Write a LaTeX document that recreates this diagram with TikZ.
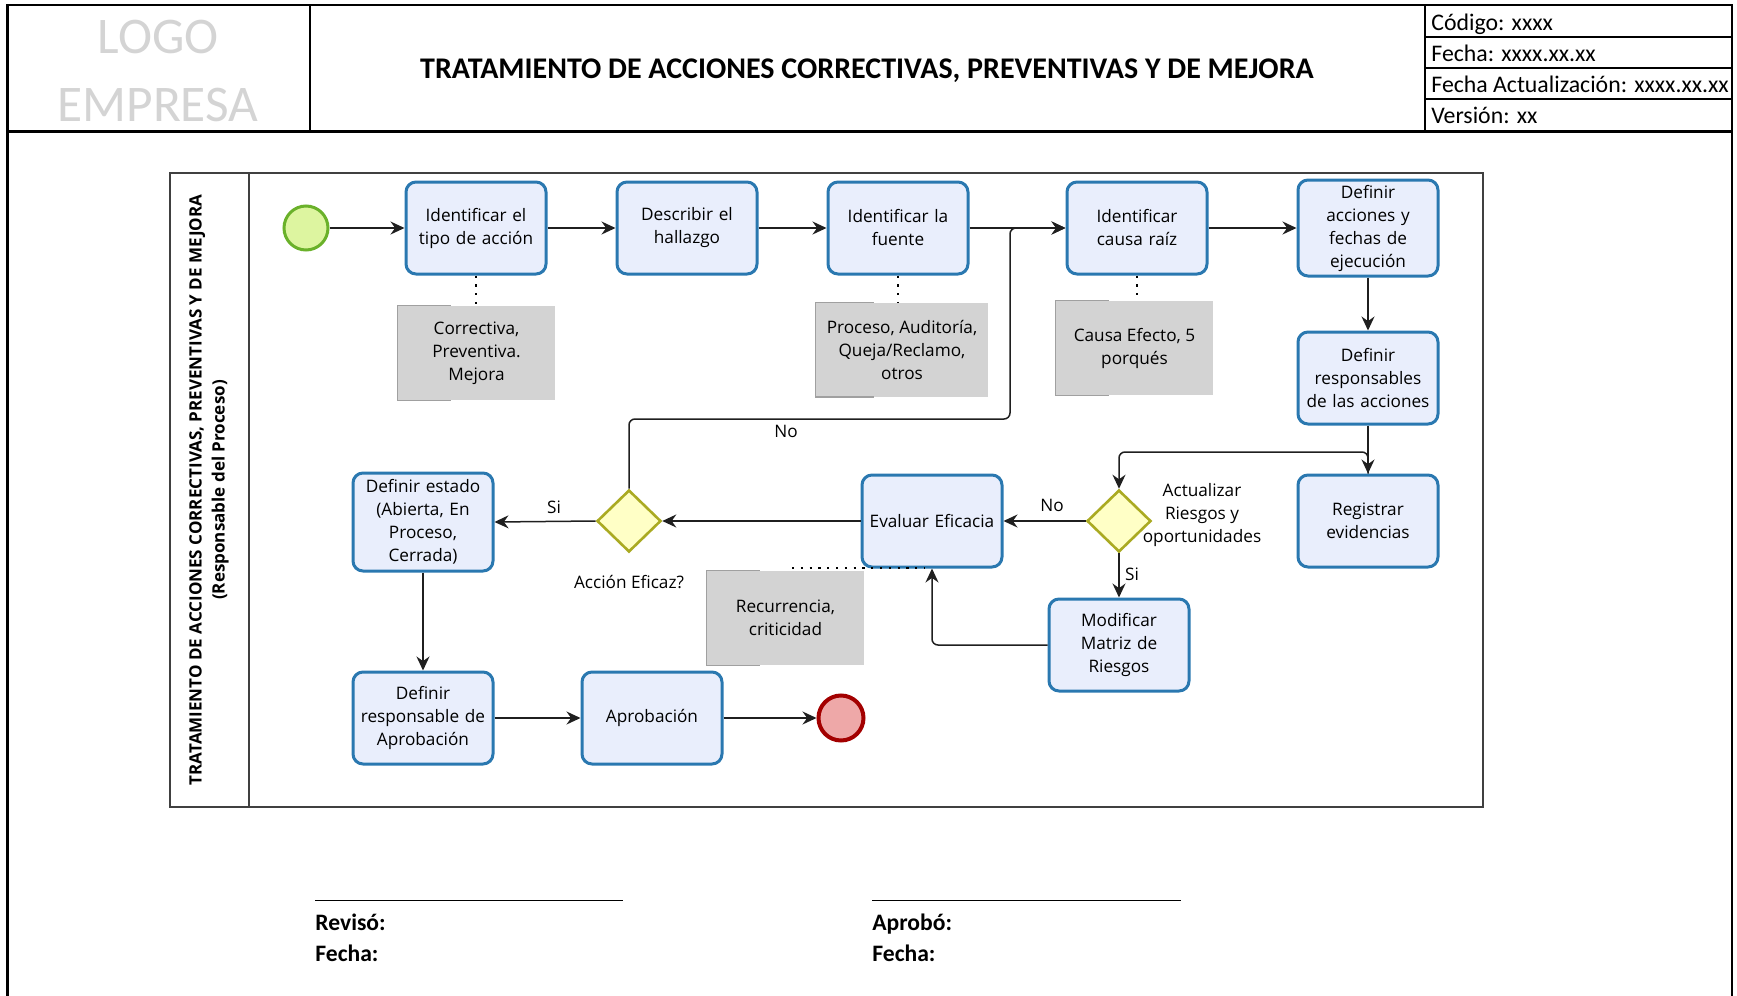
\documentclass[tikz,border=0pt]{standalone}
\usepackage{fontspec}
\setmainfont{Carlito}
\newfontfamily\bzfont{Open Sans}
\usetikzlibrary{arrows.meta,shapes.geometric}
\definecolor{taskline}{HTML}{2A78B0}
\definecolor{taskfill}{HTML}{E9EEFC}
\definecolor{gateline}{HTML}{AAAA22}
\definecolor{gatefill}{HTML}{FFFFC6}
\definecolor{startfill}{HTML}{DDF5A0}
\definecolor{startline}{HTML}{6AB12A}
\definecolor{endfill}{HTML}{EEA8A8}
\definecolor{endline}{HTML}{A30000}
\definecolor{notefill}{HTML}{D3D3D3}
\definecolor{notemark}{HTML}{A0A0A0}
\definecolor{logogray}{HTML}{D4D4D4}
\definecolor{poolline}{HTML}{404040}
\newcommand\bpmnfont{\bzfont\fontsize{8.6pt}{11.5pt}\selectfont}

\begin{document}
\begin{tikzpicture}[x=0.5pt,y=-0.5pt,
  task/.style={draw=taskline, fill=taskfill, line width=1.5pt, rounded corners=5pt,
    minimum width=70pt, minimum height=46pt, text width=68pt, align=center,
    inner sep=0pt, font=\bpmnfont},
  gate/.style={diamond, draw=gateline, fill=gatefill, line width=1.3pt,
    minimum width=32pt, minimum height=31pt, inner sep=0pt},
  startev/.style={circle, draw=startline, fill=startfill, line width=1.5pt,
    minimum size=22pt, inner sep=0pt},
  endev/.style={circle, draw=endline, fill=endfill, line width=2pt,
    minimum size=22.5pt, inner sep=0pt},
  note/.style={fill=notefill, minimum width=78.5pt, minimum height=47pt,
    align=center, inner sep=0pt, font=\bpmnfont},
  notemarkstyle/.style={draw=notemark, line width=0.6pt},
  flow/.style={draw=black!88, line width=0.75pt, rounded corners=3pt,
    -{Stealth[length=7pt,width=6.5pt,inset=2.3pt]}},
  assoc/.style={draw=black, line width=1.1pt, dash pattern=on 1.1pt off 3.3pt},
  lbl/.style={font=\bpmnfont, inner sep=0pt},
  frameline/.style={line width=1.2pt, black},
  thinrow/.style={line width=0.7pt, black},
  pool/.style={draw=poolline, line width=0.9pt},
  sig/.style={font=\fontsize{11.8pt}{14pt}\selectfont\bfseries, inner sep=0pt, anchor=base west},
  hdr/.style={font=\fontsize{11.9pt}{14pt}\selectfont, inner sep=0pt, anchor=base west}
]
\useasboundingbox (0,0) rectangle (1737,996);

% ---------- page frame and header ----------
\draw[frameline] (7.5,996) -- (7.5,5) -- (1732,5) -- (1732,996);
\draw[frameline] (7.5,131.5) -- (1732,131.5);
\draw[frameline] (310,5) -- (310,131.5);
\draw[frameline] (1425,5) -- (1425,131.5);
\draw[thinrow] (1425,37) -- (1732,37);
\draw[thinrow] (1425,68) -- (1732,68);
\draw[thinrow] (1425,99) -- (1732,99);

\node[font=\fontsize{25.7pt}{30pt}\selectfont, text=logogray, inner sep=0pt] (logo1) at (158,37) {LOGO};
\node[font=\fontsize{25.7pt}{30pt}\selectfont, text=logogray, inner sep=0pt] (logo2) at (158,105) {EMPRESA};
\node[font=\fontsize{15pt}{18pt}\selectfont\bfseries, inner sep=0pt] (title) at (867,71)
  {TRATAMIENTO DE ACCIONES CORRECTIVAS, PREVENTIVAS Y DE MEJORA};
\node[hdr] (cod) at (1431,30) {Código: xxxx};
\node[hdr] (fec) at (1431,61) {Fecha: xxxx.xx.xx};
\node[hdr] (act) at (1431,92) {Fecha Actualización: xxxx.xx.xx};
\node[hdr] (ver) at (1431,123) {Versión: xx};

% ---------- pool ----------
\draw[pool] (170,173) rectangle (1483,807);
\draw[pool] (249,173) -- (249,807);
\node[rotate=90, align=center, inner sep=0pt,
  font=\bzfont\fontsize{8.5pt}{11.5pt}\selectfont\bfseries] (lane) at (209,490)
  {TRATAMIENTO DE ACCIONES CORRECTIVAS, PREVENTIVAS Y DE MEJORA\\(Responsable del Proceso)};

% ---------- flow objects ----------
\node[startev] (start) at (306,228) {};
\node[task] (t1) at (476,228) {Identificar el\\tipo de acción};
\node[task] (t2) at (687,228) {Describir el\\hallazgo};
\node[task] (t3) at (898,228) {Identificar la\\fuente};
\node[task] (t4) at (1137,228) {Identificar\\causa raíz};
\node[task, minimum height=48pt] (t5) at (1368,228) {Definir\\acciones y\\fechas de\\ejecución};
\node[task] (t6) at (1368,378) {Definir\\responsables\\de las acciones};
\node[task] (t7) at (1368,521) {Registrar\\evidencias};
\node[gate] (g1) at (1119,521) {};
\node[task] (t8) at (932,521) {Evaluar Eficacia};
\node[gate] (g2) at (629,521) {};
\node[task, minimum height=49pt] (t9) at (423,522) {Definir estado\\(Abierta, En\\Proceso,\\Cerrada)};
\node[task] (t10) at (1119,645) {Modificar\\Matriz de\\Riesgos};
\node[task] (t11) at (423,718) {Definir\\responsable de\\Aprobación};
\node[task] (t12) at (652,718) {Aprobación};
\node[endev] (end) at (841,718) {};

% ---------- text annotations ----------
\node[note] (a1) at (476.5,353) {Correctiva,\\Preventiva.\\Mejora};
\node[note, minimum width=85.75pt] (a2) at (902,349.5) {Proceso, Auditoría,\\Queja/Reclamo,\\otros};
\node[note] (a3) at (1134.5,348) {Causa Efecto, 5\\porqués};
\node[note] (a4) at (785.5,618) {Recurrencia,\\criticidad};
\foreach \n/\s in {a1/26.5pt, a2/29pt, a3/26.5pt, a4/26.5pt}{
  \draw[notemarkstyle] ([xshift=\s]\n.north west) -- (\n.north west)
    -- (\n.south west) -- ([xshift=\s]\n.south west);
}

% ---------- associations ----------
\draw[assoc] (t1.south) -- (t1.south |- a1.north);
\draw[assoc] (t3.south) -- (t3.south |- a2.north);
\draw[assoc] (t4.south) -- (t4.south |- a3.north);
\coordinate (a4l) at (792,568);
\coordinate (a4r) at (925,568);
\draw[assoc] (a4l) -- (a4r);

% ---------- sequence flows ----------
\draw[flow] (start.east) -- (t1.west);
\draw[flow] (t1.east) -- (t2.west);
\draw[flow] (t2.east) -- (t3.west);
\draw[flow] (t3.east) -- (t4.west);
\draw[flow] (t4.east) -- (t5.west);
\draw[flow] (t5.south) -- (t6.north);
\draw[flow] (t6.south) -- (t7.north);
\coordinate (j1) at (1119,452);
\draw[flow] (t7.north) |- (j1) -- (g1.north);
\draw[flow] (g1.west) -- (t8.east);
\draw[flow] (g1.south) -- (t10.north);
\draw[flow] (t10.west) -| (t8.south);
\draw[flow] (t8.west) -- (g2.east);
\draw[flow] (g2.west) -- (t9.east);
\coordinate (j2) at (1010,419);
\draw[flow] (g2.north) |- (j2) |- (t4.west);
\draw[flow] (t9.south) -- (t11.north);
\draw[flow] (t11.east) -- (t12.west);
\draw[flow] (t12.east) -- (end.west);

% ---------- flow labels ----------
\node[lbl] (lno1) at (1052,505) {No};
\node[lbl] (lsi1) at (1132,574) {Si};
\node[lbl] (lsi2) at (554,507) {Si};
\node[lbl] (lno2) at (786,431) {No};
\node[lbl] (lacc) at (629,582) {Acción Eficaz?};
\node[lbl, align=center] (lact) at (1202,515) {Actualizar\\Riesgos y\\oportunidades};

% ---------- signatures ----------
\draw[line width=0.6pt] (315,900.5) -- (623,900.5);
\draw[line width=0.6pt] (872,900.5) -- (1181,900.5);
\node[sig] (rev) at (315,930) {Revisó:};
\node[sig] (rfe) at (315,961) {Fecha:};
\node[sig] (apr) at (872,930) {Aprobó:};
\node[sig] (afe) at (872,961) {Fecha:};
\end{tikzpicture}
\end{document}
